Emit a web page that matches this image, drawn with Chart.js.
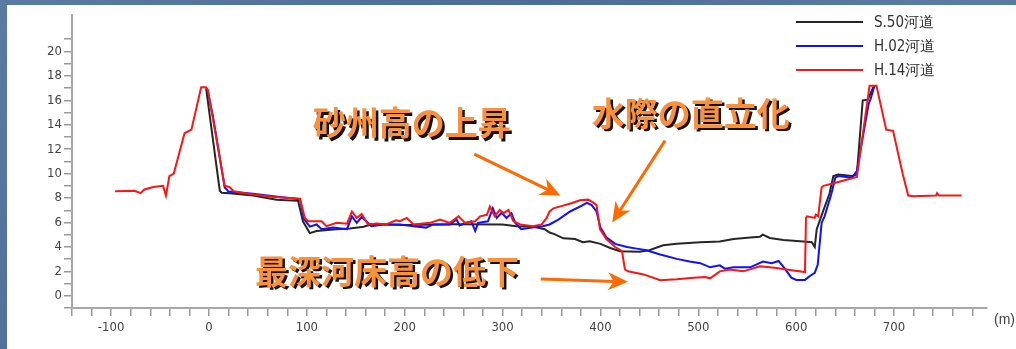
<!DOCTYPE html>
<html><head><meta charset="utf-8">
<script src="https://cdn.jsdelivr.net/npm/chart.js@4.4.1/dist/chart.umd.min.js"></script>
<style>
html,body{margin:0;padding:0;width:1016px;height:349px;overflow:hidden;
  background:linear-gradient(135deg,#5a7aa2 0%,#4d6d96 40%,#5b7ba3 70%,#4f6f98 100%);}
#panel{position:absolute;left:7px;top:5px;width:1009px;height:344px;background:#fff;}
canvas{display:block;}
</style></head><body>
<div id="panel"><canvas id="c" width="1009" height="344"></canvas></div>
<script>
// ---- data (x = distance in m, y = elevation) ----
const seriesLabels = ['S.50河道', 'H.02河道', 'H.14河道'];

const s50X = [-3, 11, 13, 21, 45, 69, 91, 96, 103, 110, 130, 144, 158, 166, 200, 250, 300, 314, 331, 343, 348, 353, 362, 374, 382, 389, 400, 410, 420, 440, 450, 464, 478, 502, 522, 536, 553, 563, 566, 573, 587, 604, 616, 619, 621, 628, 634, 638, 643, 657, 662, 668, 673, 679];
const s50Y = [17.0, 8.6, 8.43, 8.4, 8.2, 7.87, 7.77, 6.1, 5.13, 5.3, 5.45, 5.5, 5.65, 5.85, 5.8, 5.85, 5.84, 5.7, 5.66, 5.45, 5.18, 5.05, 4.7, 4.65, 4.39, 4.47, 4.25, 3.91, 3.65, 3.6, 3.73, 4.13, 4.25, 4.39, 4.44, 4.65, 4.78, 4.84, 5.0, 4.73, 4.57, 4.47, 4.39, 3.99, 5.45, 7.03, 8.35, 9.8, 9.93, 9.8, 9.93, 16.0, 16.05, 17.1];

const h02X = [-2, 4, 16, 20, 45, 70, 93, 97, 103, 110, 115, 127, 141, 146, 151, 156, 166, 178, 195, 209, 222, 229, 246, 253, 256, 263, 268, 272, 275, 285, 290, 294, 299, 304, 309, 313, 319, 330, 341, 348, 357, 369, 382, 386, 391, 396, 400, 406, 415, 427, 437, 447, 461, 478, 491, 502, 512, 522, 527, 536, 553, 566, 575, 582, 588, 595, 600, 609, 614, 619, 622, 626, 629, 636, 640, 643, 657, 662, 674, 676, 680];
const h02Y = [17.0, 14.7, 8.88, 8.53, 8.35, 8.1, 7.9, 6.3, 5.66, 5.84, 5.45, 5.58, 5.45, 6.5, 5.97, 6.45, 5.7, 5.84, 5.84, 5.7, 5.58, 5.84, 5.84, 6.24, 5.76, 5.97, 6.1, 5.3, 5.97, 6.1, 7.16, 6.37, 6.8, 6.37, 6.76, 5.97, 5.45, 5.58, 5.7, 5.84, 6.24, 6.9, 7.42, 7.6, 7.42, 6.9, 5.58, 4.78, 4.25, 3.99, 3.86, 3.73, 3.38, 3.02, 2.8, 2.67, 2.33, 2.49, 2.22, 2.33, 2.33, 2.8, 2.67, 2.85, 2.27, 1.48, 1.3, 1.3, 1.62, 1.88, 2.54, 5.97, 6.5, 8.35, 9.67, 9.8, 9.67, 10.2, 15.7, 16.1, 17.2];

const h14X = [-96, -76, -70, -66, -57, -47, -44, -40.5, -36, -25, -18, -8, -3, -1, 16, 21, 25, 45, 66, 93, 98, 101.5, 115, 120, 130.5, 141, 146, 151, 156, 162.5, 171, 181, 191, 195, 202, 209, 226, 236, 246, 255, 261.5, 272, 277, 284, 287, 292, 297, 301, 306, 311, 318, 331, 340, 345, 348, 352, 360, 371, 379, 387.5, 393, 396, 399.5, 406, 415, 422, 425, 428, 444, 461, 478, 495, 507, 512, 522, 532, 546, 563, 580, 597, 609, 610, 611, 619, 620, 622.5, 626, 628, 641, 662, 675, 682, 692, 699, 709, 714.5, 720, 743, 744, 746, 769];
const h14Y = [8.56, 8.6, 8.4, 8.7, 8.9, 9.0, 8.2, 9.8, 10.0, 13.3, 13.6, 17.06, 17.06, 16.8, 9.0, 8.9, 8.56, 8.3, 8.09, 7.95, 6.35, 6.1, 6.1, 5.7, 5.97, 5.9, 6.9, 6.37, 6.7, 5.84, 5.92, 5.84, 6.18, 6.1, 6.37, 5.84, 5.97, 6.24, 5.97, 6.5, 5.97, 6.1, 6.5, 6.63, 7.3, 6.5, 7.03, 6.76, 7.03, 6.1, 5.84, 5.7, 5.84, 6.37, 6.9, 7.16, 7.34, 7.6, 7.82, 7.87, 7.6, 7.42, 5.45, 4.65, 3.99, 3.65, 2.15, 2.0, 1.75, 1.27, 1.35, 1.48, 1.54, 1.43, 2.0, 2.15, 2.0, 2.41, 2.27, 2.07, 1.94, 6.37, 6.5, 6.37, 6.63, 6.5, 8.88, 9.0, 9.27, 9.72, 17.2, 17.2, 13.6, 13.5, 9.93, 8.2, 8.14, 8.2, 8.4, 8.2, 8.2];

const xTickValues = [];
for (let v = -140; v <= 780; v += 20) xTickValues.push(v);
const yTickValues = [];
for (let v = -1; v <= 21; v += 1) yTickValues.push(v);

// annotation texts (anchored in data coordinates)
const notes = [
  {text: '砂州高の上昇', x: 106, y: 14.15},
  {text: '水際の直立化', x: 391, y: 14.95},
  {text: '最深河床高の低下', x: 47, y: 2.0}
];
const arrows = [
  {x1: 271, y1: 11.6, x2: 359, y2: 8.2},
  {x1: 466, y1: 12.7, x2: 412, y2: 6.0},
  {x1: 339, y1: 1.38, x2: 428, y2: 1.14}
];

const toPts = (xs, ys) => xs.map((x, i) => ({x: x, y: ys[i]}));
const colors = ['#262626', '#1010ff', '#ff1414'];

const axisFont = {family: "'Liberation Sans Narrow','DejaVu Sans Condensed','Liberation Sans',sans-serif", size: 13};

function drawArrow(ctx, x1, y1, x2, y2) {
  const ang = Math.atan2(y2 - y1, x2 - x1);
  const hl = 20, hw = 9, notch = 6;
  const bx = x2 - Math.cos(ang) * (hl - notch), by = y2 - Math.sin(ang) * (hl - notch);
  ctx.save();
  ctx.strokeStyle = '#ff6a00';
  ctx.fillStyle = '#ff6a00';
  ctx.lineWidth = 3;
  ctx.beginPath();
  ctx.moveTo(x1, y1);
  ctx.lineTo(bx, by);
  ctx.stroke();
  ctx.translate(x2, y2);
  ctx.rotate(ang);
  ctx.beginPath();
  ctx.moveTo(0, 0);
  ctx.lineTo(-hl, -hw);
  ctx.lineTo(-hl + notch, 0);
  ctx.lineTo(-hl, hw);
  ctx.closePath();
  ctx.fill();
  ctx.restore();
}

const overlay = {
  id: 'overlay',
  afterDraw(chart) {
    const ctx = chart.ctx, ca = chart.chartArea;
    const xs = chart.scales.x, ys = chart.scales.y;
    ctx.save();
    // legend
    ctx.font = "15px 'Liberation Sans Narrow','DejaVu Sans Condensed','Liberation Sans',sans-serif";
    ctx.textBaseline = 'middle';
    ctx.textAlign = 'left';
    chart.data.datasets.forEach((ds, i) => {
      const y = 17 + i * 24;
      const lx = ca.right - 191;
      ctx.strokeStyle = ds.borderColor;
      ctx.lineWidth = 2;
      ctx.beginPath();
      ctx.moveTo(lx, y);
      ctx.lineTo(lx + 67, y);
      ctx.stroke();
      ctx.fillStyle = '#333';
      ctx.fillText(ds.label, lx + 78, y + 1);
    });
    // unit label
    ctx.font = "14px 'Liberation Sans','DejaVu Sans',sans-serif";
    ctx.fillStyle = '#444';
    ctx.fillText('(m)', ca.right + 7, ca.bottom + 12);
    // arrows
    arrows.forEach(a => drawArrow(ctx, xs.getPixelForValue(a.x1), ys.getPixelForValue(a.y1),
      xs.getPixelForValue(a.x2), ys.getPixelForValue(a.y2)));
    // notes
    ctx.font = "bold 33px 'Noto Sans CJK JP',sans-serif";
    ctx.textBaseline = 'middle';
    notes.forEach(n => {
      const px = xs.getPixelForValue(n.x), py = ys.getPixelForValue(n.y);
      ctx.fillStyle = '#1a1008';
      ctx.fillText(n.text, px + 2.5, py + 2.5);
      ctx.fillStyle = '#f7923a';
      ctx.fillText(n.text, px, py);
    });
    ctx.restore();
  }
};

new Chart(document.getElementById('c'), {
  type: 'line',
  data: {
    datasets: [
      {label: seriesLabels[0], data: toPts(s50X, s50Y), borderColor: colors[0], order: 2},
      {label: seriesLabels[1], data: toPts(h02X, h02Y), borderColor: colors[1], order: 1},
      {label: seriesLabels[2], data: toPts(h14X, h14Y), borderColor: colors[2], order: 0}
    ]
  },
  options: {
    responsive: false,
    animation: false,
    devicePixelRatio: 1,
    layout: {padding: {left: 0, right: 29, top: 0, bottom: 0}},
    elements: {
      line: {borderWidth: 2, tension: 0, fill: false},
      point: {radius: 0, hoverRadius: 0}
    },
    plugins: {legend: {display: false}, tooltip: {enabled: false}},
    scales: {
      x: {
        type: 'linear', min: -140, max: 795,
        afterBuildTicks: s => { s.ticks = xTickValues.map(v => ({value: v})); },
        afterFit: s => { s.height = 41; },
        ticks: {
          autoSkip: false, maxRotation: 0, padding: 4, color: '#444', font: axisFont,
          callback: v => (v % 100 === 0 ? String(v) : '')
        },
        grid: {drawOnChartArea: false, drawTicks: true, tickLength: 8, color: '#9a9a9a', lineWidth: 1.5},
        border: {color: '#a8a8a8', width: 2}
      },
      y: {
        type: 'linear', min: -1, max: 23,
        afterBuildTicks: s => { s.ticks = yTickValues.map(v => ({value: v})); },
        afterFit: s => { s.width = 65; },
        ticks: {
          autoSkip: false, padding: 2, color: '#444', font: axisFont,
          callback: v => (v % 2 === 0 && v >= 0 && v <= 20 ? String(v) : '')
        },
        grid: {drawOnChartArea: false, drawTicks: true, tickLength: 8, color: '#9a9a9a', lineWidth: 1.5},
        border: {color: '#a8a8a8', width: 2}
      }
    }
  },
  plugins: [overlay]
});
</script>
</body></html>
